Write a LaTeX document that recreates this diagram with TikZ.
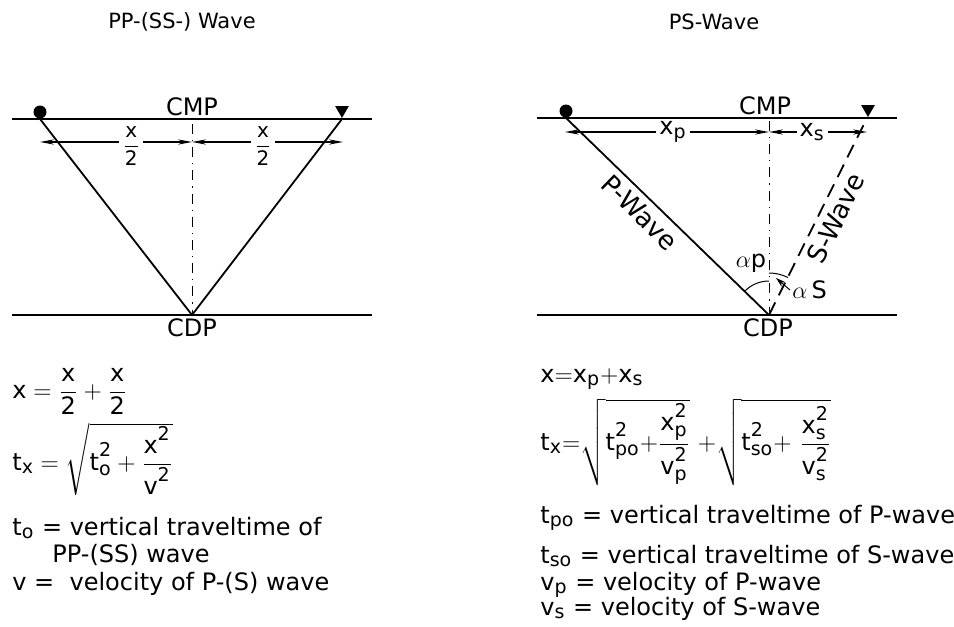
\documentclass[tikz,border=0pt]{standalone}
\usepackage{amsmath}
\usepackage{fontspec}
\setmainfont{DejaVu Sans}
\setsansfont{DejaVu Sans}
\usetikzlibrary{arrows.meta,positioning,calc,shapes.geometric}
\DeclareMathSizes{12}{12}{9.5}{7.5}

\newcommand{\sv}[1]{\mathsf{#1}}

\begin{document}
\begin{tikzpicture}[x=0.5pt,y=-0.5pt,
    surface/.style={line width=1.4pt},
    ray/.style={line width=0.9pt},
    sray/.style={ray, dash pattern=on 7pt off 4pt},
    axisline/.style={line width=0.5pt, dash pattern=on 5pt off 3pt on 0.6pt off 3pt},
    dist/.style={line width=0.6pt, {Stealth[length=7pt,width=2.6pt]}-{Stealth[length=7pt,width=2.6pt]}},
    shot/.style={circle, fill, inner sep=0pt, minimum size=6.5pt},
    geophone/.style={regular polygon, regular polygon sides=3, shape border rotate=180, fill, inner sep=0pt, minimum size=8pt},
    lbl/.style={font=\fontsize{12}{14}\selectfont, inner sep=1pt},
    wavelbl/.style={font=\fontsize{13}{15}\selectfont, inner sep=3pt},
    title/.style={font=\fontsize{10.5}{12}\selectfont},
    eq/.style={anchor=base west, inner sep=0pt, font=\fontsize{12}{14}\selectfont},
    cut/.style={fill=white, inner sep=1.5pt, font=\fontsize{12}{14}\selectfont},
    halfcut/.style={cut, font=\fontsize{10}{12}\selectfont, yshift=-2pt}]
  \useasboundingbox (0,0) rectangle (954,627);

  % PP-(SS-) wave
  \node[title] (ltitle) at (182,22) {PP-(SS-) Wave};
  \coordinate (lsurfW) at (12,119);
  \coordinate (lsurfE) at (372,119);
  \coordinate (lreflW) at (12,315);
  \coordinate (lreflE) at (372,315);
  \coordinate (lsrc) at (40,119);
  \coordinate (lrec) at (342,119);
  \coordinate (lcdp) at (192,315);
  \coordinate (lcmp) at (192,124);
  \coordinate (ldW) at (40,142);
  \coordinate (ldM) at (192,142);
  \coordinate (ldE) at (343,142);
  \draw[axisline] (lcmp) -- (lcdp);
  \draw[ray] (lsrc) -- (lcdp) -- (lrec);
  \draw[dist] (ldW) -- node[halfcut, pos=0.6] {$\dfrac{\sv{x}}{\sv{2}}$} (ldM);
  \draw[dist] (ldM) -- node[halfcut, pos=0.47] {$\dfrac{\sv{x}}{\sv{2}}$} (ldE);
  \draw[surface] (lsurfW) -- (lsurfE);
  \draw[surface] (lreflW) -- (lreflE);
  \node[shot] (lshot) at (40,112) {};
  \node[geophone] (lgeo) at (342,110) {};
  \node[lbl, above] (lcmplbl) at (192,118) {CMP};
  \node[lbl, below] (lcdplbl) at (192,316) {CDP};

  \node[eq] (leqx) at (12,398) {$\sv{x} = \dfrac{\sv{x}}{\sv{2}} + \dfrac{\sv{x}}{\sv{2}}$};
  \node[eq] (leqt) at (12,470) {$\sv{t}_{\sv{x}} = \sqrt{\sv{t}_{\sv{o}}^{\sv{2}} + \dfrac{\sv{x}^{\sv{2}}}{\sv{v}^{\sv{2}}}}$};
  \node[eq] (lto) at (12,535) {$\sv{t}_{\sv{o}}$ = vertical traveltime of};
  \node[eq] (lpp) at (52,562) {PP-(SS) wave};
  \node[eq] (lv) at (12,590) {v =\ \ velocity of P-(S) wave};

  % PS wave
  \node[title] (rtitle) at (714,22) {PS-Wave};
  \coordinate (rsurfW) at (537,118);
  \coordinate (rsurfE) at (897,118);
  \coordinate (rreflW) at (537,315);
  \coordinate (rreflE) at (897,315);
  \coordinate (rsrc) at (566,118);
  \coordinate (rrec) at (867,118);
  \coordinate (rcdp) at (769,315);
  \coordinate (rcmp) at (769,121);
  \coordinate (rdW) at (565,132);
  \coordinate (rdM) at (769,132);
  \coordinate (rdE) at (867,132);
  \draw[axisline] (rcmp) -- (rcdp);
  \draw[ray] (rsrc) -- node[wavelbl, sloped, below, pos=0.42] {P-Wave} (rcdp);
  \draw[sray] (rcdp) -- node[wavelbl, sloped, below, pos=0.53] {S-Wave} (rrec);
  \draw[dist] (rdW) -- node[cut, pos=0.53] {$\sv{x}_{\sv{p}}$} (rdM);
  \draw[dist] (rdM) -- node[cut, pos=0.44] {$\sv{x}_{\sv{s}}$} (rdE);
  \draw[surface] (rsurfW) -- (rsurfE);
  \draw[surface] (rreflW) -- (rreflE);
  \node[shot] (rshot) at (566,111) {};
  \node[geophone] (rgeo) at (868,109) {};
  \node[lbl, above] (rcmplbl) at (765,117) {CMP};
  \node[lbl, below] (rcdplbl) at (768,316) {CDP};

  % angles at the CDP
  \draw[line width=0.5pt] ($(rcdp)+(90:17pt)$) arc[start angle=90, end angle=136, radius=17pt];
  \draw[line width=0.5pt] ($(rcdp)+(63.4:21pt)$) arc[start angle=63.4, end angle=90, radius=21pt];
  \node[lbl] (alphap) at (751,263) {$\alpha$p};
  \node[lbl, anchor=west] (alphas) at (790,290) {$\alpha$\,S};
  \draw[line width=0.5pt, -{Stealth[length=5pt,width=3pt]}] (alphas.west) -- ++(-14,-12);

  \node[eq] (reqx) at (540,382) {$\sv{x}{=}\sv{x}_{\sv{p}}{+}\sv{x}_{\sv{s}}$};
  \node[eq] (reqt) at (540,450) {$\sv{t}_{\sv{x}}{=}\sqrt{\sv{t}_{\sv{po}}^{\sv{2}}{+}\dfrac{\sv{x}_{\sv{p}}^{\sv{2}}}{\sv{v}_{\sv{p}}^{\sv{2}}}}\ {+}\sqrt{\sv{t}_{\sv{so}}^{\sv{2}}{+}\ \dfrac{\sv{x}_{\sv{s}}^{\sv{2}}}{\sv{v}_{\sv{s}}^{\sv{2}}}}$};
  \node[eq] (rtpo) at (540,523) {$\sv{t}_{\sv{po}}$ = vertical traveltime of P-wave};
  \node[eq] (rtso) at (540,563) {$\sv{t}_{\sv{so}}$ = vertical traveltime of S-wave};
  \node[eq] (rvp) at (540,590) {$\sv{v}_{\sv{p}}$ = velocity of P-wave};
  \node[eq] (rvs) at (540,615) {$\sv{v}_{\sv{s}}$ = velocity of S-wave};
\end{tikzpicture}
\end{document}
